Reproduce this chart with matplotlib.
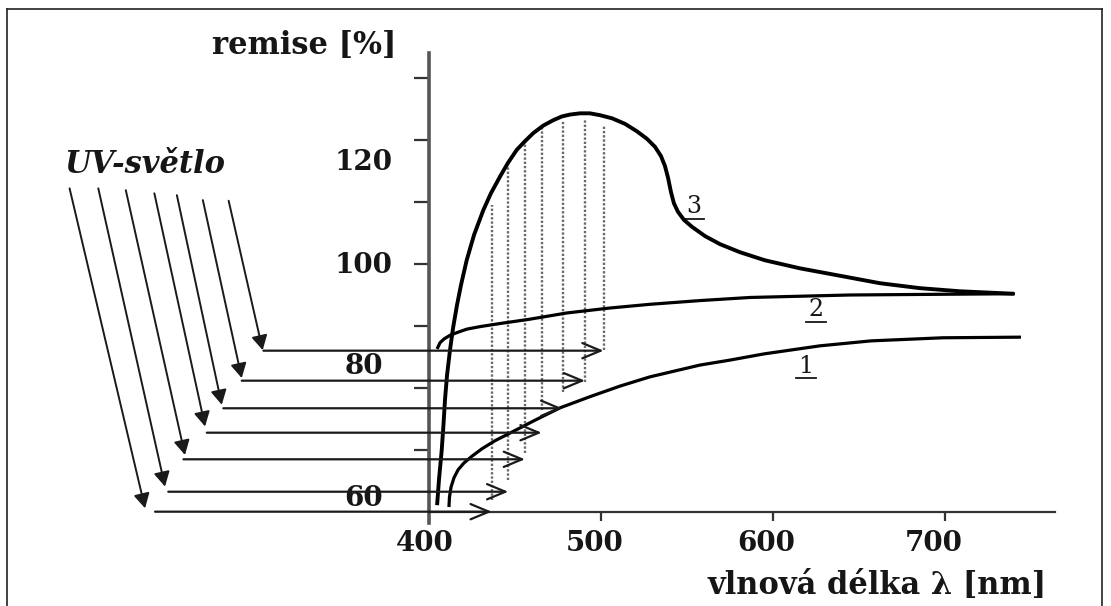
import matplotlib
matplotlib.use("Agg")
import matplotlib.pyplot as plt
from matplotlib.lines import Line2D

# ---------------- data ----------------
curve1_wl = [411.6, 411.9, 412.8, 414.5, 416.9, 420.3, 425.0, 430.8, 438.4, 448.3,
             461.6, 476.2, 493.6, 511.0, 528.5, 557.6, 575.0, 594.8, 627.3, 657.0,
             698.8, 744.2]
curve1_rem = [60.8, 62.4, 64.0, 65.5, 66.8, 67.9, 69.0, 70.2, 71.5, 72.9,
              74.8, 76.8, 78.6, 80.3, 81.8, 83.7, 84.5, 85.5, 86.8, 87.6,
              88.1, 88.2]

curve2_wl = [404.7, 406.4, 408.7, 412.2, 416.9, 422.1, 429.7, 441.3, 458.7, 480.1,
             505.2, 528.5, 557.6, 586.6, 615.7, 644.8, 691.3, 740.7]
curve2_rem = [86.3, 87.3, 87.9, 88.5, 89.0, 89.5, 89.9, 90.4, 91.1, 92.1,
              92.9, 93.5, 94.1, 94.6, 94.8, 95.0, 95.1, 95.2]

curve3_wl = [404.7, 405.8, 407.4, 408.4, 409.3, 410.5, 412.2, 414.0, 416.3, 418.6,
             421.9, 426.2, 431.6, 436.0, 441.3, 445.9, 451.0, 455.8, 460.6, 466.3,
             472.3, 477.3, 482.0, 487.8, 493.6, 499.4, 506.4, 514.0, 520.9, 526.7,
             531.4, 534.9, 537.2, 539.0, 540.7, 542.4, 544.8, 548.3, 552.9, 560.5,
             569.2, 580.8, 595.3, 615.7, 639.0, 662.2, 685.5, 708.7, 740.1]
curve3_rem = [61.1, 65.2, 70.0, 74.0, 78.1, 82.1, 86.1, 89.7, 93.4, 96.6,
              100.6, 104.7, 108.7, 111.4, 114.1, 116.3, 118.4, 119.8, 121.1, 122.3,
              123.2, 123.8, 124.1, 124.3, 124.3, 124.0, 123.5, 122.6, 121.4, 120.2,
              118.9, 117.4, 115.8, 113.9, 111.6, 109.8, 108.4, 107.1, 106.0, 104.5,
              103.2, 101.9, 100.6, 99.3, 98.1, 96.9, 96.1, 95.6, 95.2]

curve_labels = ["1", "2", "3"]

# UV light arrows: diagonal (incoming) arrows
uv_start_wl = [191.0, 207.7, 223.7, 240.3, 253.4, 268.5, 283.5]
uv_start_rem = [112.2, 112.2, 111.9, 111.4, 111.1, 110.3, 110.2]
uv_tip_wl = [234.9, 246.5, 258.1, 269.8, 279.5, 291.1, 303.3]
uv_tip_rem = [60.6, 64.1, 69.2, 73.8, 77.3, 81.6, 86.1]

# horizontal arrows
h_start_wl = [240.7, 248.4, 257.2, 270.8, 280.4, 291.1, 303.7]
h_tip_wl = [436.5, 446.1, 455.8, 465.5, 477.5, 490.7, 501.5]
h_rem = [60.05, 63.27, 68.5, 72.79, 76.73, 81.18, 86.02]

# dotted verticals (emitted light)
dot_wl = [436.5, 446.1, 455.8, 465.5, 477.7, 490.7, 501.7]
dot_bottom = [61.9, 65.2, 69.5, 76.5, 79.4, 81.0, 86.1]
dot_top = [109.5, 116.5, 120.0, 122.2, 123.0, 123.2, 122.2]

yticks = [70, 80, 90, 100, 110, 120, 130]
xticks = [500, 600, 700]
ytick_labels = ["120", "100", "80", "60"]
xtick_labels = ["400", "500", "600", "700"]

ylabel = "remise [%]"
xlabel = "vlnová délka λ [nm]"
uv_text = "UV-světlo"

# ---------------- layout ----------------
W, H = 1111, 606
fig = plt.figure(figsize=(W / 100, H / 100), dpi=100)
fig.patch.set_facecolor("white")

left_px, right_px, top_px, bottom_px = 429, 1055, 53, 512
ax = fig.add_axes([left_px / W, 1 - bottom_px / H,
                   (right_px - left_px) / W, (bottom_px - top_px) / H])
ax.set_xlim(400, 764)
ax.set_ylim(60, 134.03)
ax.patch.set_alpha(0)

for s in ("top", "right"):
    ax.spines[s].set_visible(False)
ax.spines["left"].set_color("#555555")
ax.spines["left"].set_linewidth(2.6)
ax.spines["left"].set_bounds(58.2, 134.03)
ax.spines["bottom"].set_color("#333333")
ax.spines["bottom"].set_linewidth(1.6)

ax.set_yticks(yticks)
ax.set_yticklabels([])
ax.set_xticks(xticks)
ax.set_xticklabels([])
ax.tick_params(axis="y", direction="out", length=11, width=1.6, colors="#333333")
ax.tick_params(axis="x", direction="out", length=6.5, width=1.6, colors="#333333")

TXT = "#161616"
serif_b = dict(family="DejaVu Serif", weight="bold", color=TXT)

# curves
ax.plot(curve1_wl, curve1_rem, color="black", lw=2.3, solid_capstyle="butt",
        solid_joinstyle="round", zorder=4)
ax.plot(curve2_wl, curve2_rem, color="black", lw=2.3, solid_capstyle="butt",
        solid_joinstyle="round", zorder=4)
ax.plot(curve3_wl, curve3_rem, color="black", lw=2.8, solid_capstyle="butt",
        solid_joinstyle="round", zorder=4)

# dotted verticals
ax.vlines(dot_wl, dot_bottom, dot_top, colors="#6a6a6a", linestyles=(0, (1, 0.8)),
          lw=1.7, zorder=2)

# diagonal UV arrows
for xs, ys, xt, yt in zip(uv_start_wl, uv_start_rem, uv_tip_wl, uv_tip_rem):
    ax.annotate("", xy=(xt, yt), xytext=(xs, ys), annotation_clip=False,
                arrowprops=dict(arrowstyle="-|>,head_length=0.55,head_width=0.3",
                                mutation_scale=16, lw=1.4, color="#1a1a1a",
                                shrinkA=0, shrinkB=0))

# horizontal arrows
for xs, xt, y in zip(h_start_wl, h_tip_wl, h_rem):
    ax.annotate("", xy=(xt, y), xytext=(xs, y), annotation_clip=False,
                arrowprops=dict(arrowstyle="->,head_length=0.6,head_width=0.25",
                                mutation_scale=22, lw=1.6, color="#1a1a1a",
                                shrinkA=0, shrinkB=0), zorder=5)

# tick labels placed like in the reference
ytl_wl = 362.2
ytl_pos = [116.3, 99.8, 83.5, 62.1]
for lab, yv in zip(ytick_labels, ytl_pos):
    ax.text(ytl_wl, yv, lab, ha="center", va="center", fontsize=20, **serif_b)
xtl_pos = [397.7, 496.5, 595.9, 693.6]
for lab, xv in zip(xtick_labels, xtl_pos):
    ax.text(xv, 54.84, lab, ha="center", va="center", fontsize=20, **serif_b)

# axis titles
ax.text(381.0, 135.2, ylabel, ha="right", va="center", fontsize=22, **serif_b)
ax.text(660.5, 48.2, xlabel, ha="center", va="center", fontsize=22, **serif_b)
ax.text(234.9, 116.1, uv_text, ha="center", va="center", fontsize=22,
        family="DejaVu Serif", weight="bold", style="italic", color=TXT)

# curve labels (underlined)
lab_pos = [(619.2, 83.5), (625.0, 92.6), (554.1, 109.2)]
for lab, (xv, yv) in zip(curve_labels, lab_pos):
    ax.text(xv, yv, lab, ha="center", va="center", fontsize=17,
            family="DejaVu Serif", color=TXT)
    ax.plot([xv - 6.0, xv + 6.0], [yv - 1.95, yv - 1.95], color=TXT, lw=1.3,
            clip_on=False)

# frame around the picture
bx0, bx1, by = 7 / W, 1102 / W, 1 - 9.3 / H
for xs, ys in (([bx0, bx0], [0, by]), ([bx0, bx1], [by, by]), ([bx1, bx1], [by, 0])):
    fig.add_artist(Line2D(xs, ys, transform=fig.transFigure, color="#222222", lw=1.2))

fig.savefig("out.png", dpi=100)
